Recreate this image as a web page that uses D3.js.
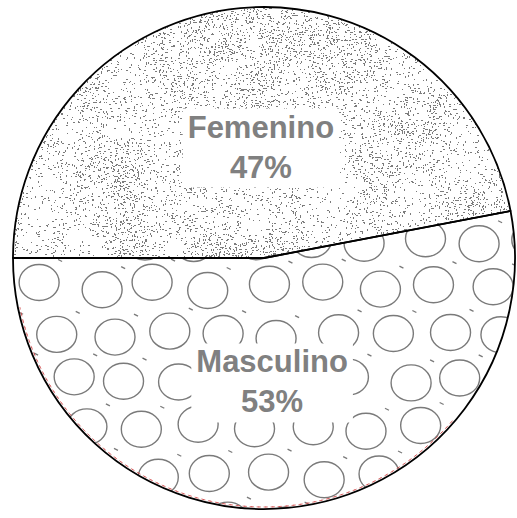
<!DOCTYPE html>
<html>
<head>
<meta charset="utf-8">
<script src="https://cdn.jsdelivr.net/npm/d3@7"></script>
<style>
  html, body { margin: 0; padding: 0; background: #ffffff; }
  svg { display: block; }
</style>
</head>
<body>
<svg id="chart" width="517" height="518"></svg>
<script>
// ---- data ----
const categories = ["Femenino", "Masculino"];
const values = [47, 53];
const percentLabels = ["47%", "53%"];

// ---- layout ----
const W = 517, H = 518;
const cx = 264, cy = 258, R = 251;
const textColor = "#808080";

const svg = d3.select("#chart");
const defs = svg.append("defs");
const g = svg.append("g").attr("transform", `translate(${cx},${cy})`);

const pie = d3.pie().sort(null).startAngle(-Math.PI / 2).endAngle(1.5 * Math.PI);
const arcs = pie(values);
const arc = d3.arc().innerRadius(0).outerRadius(R);

arcs.forEach((a, i) => {
  defs.append("clipPath").attr("id", "clip" + i)
    .append("path").attr("d", arc(a));
});

g.selectAll("path.bg").data(arcs).join("path")
  .attr("class", "bg").attr("d", arc).attr("fill", "#fff");

// ---- texture helpers (deterministic integer hash, texture only) ----
function ihash(x, y, s) {
  let h = (Math.imul(x, 374761393) + Math.imul(y, 668265263) + Math.imul(s, 1442695041)) | 0;
  h = Math.imul(h ^ (h >>> 13), 1274126177);
  h ^= h >>> 16;
  h = Math.imul(h, 2246822519);
  h ^= h >>> 13;
  return (h >>> 0) / 4294967296;
}
function vnoise(x, y, s) {
  const xi = Math.floor(x), yi = Math.floor(y);
  const xf = x - xi, yf = y - yi;
  const sm = t => t * t * (3 - 2 * t);
  const a = ihash(xi, yi, s), b = ihash(xi + 1, yi, s), c = ihash(xi, yi + 1, s), d = ihash(xi + 1, yi + 1, s);
  const u = sm(xf), v = sm(yf);
  return a + (b - a) * u + (c - a) * v + (a - b - c + d) * u * v;
}

// ---- stipple texture for slice 0 (Femenino) ----
(function () {
  let d = "";
  for (let y = 0; y < cy + 2; y += 2) {
    for (let x = 0; x < W; x += 2) {
      const n = 0.6 * vnoise(x / 42, y / 42, 1) + 0.4 * vnoise(x / 16, y / 16, 2);
      const dens = 0.10 + 0.55 * Math.pow(Math.max(0, n - 0.15) / 0.85, 1.4);
      if (ihash(x, y, 3) < dens) {
        const k = ihash(x, y, 4);
        const ox = ihash(x, y, 5) < 0.5 ? 0 : 1;
        const oy = ihash(x, y, 6) < 0.5 ? 0 : 1;
        const px = x + ox - cx, py = y + oy - cy;
        if (k < 0.4) d += `M${px},${py}h1v1h-1z`;
        else if (k < 0.75) d += `M${px},${py}h2v1h-2z`;
        else d += `M${px},${py}h1v2h-1z`;
      }
    }
  }
  g.append("g").attr("clip-path", "url(#clip0)")
    .append("path").attr("d", d).attr("fill", "#7c7c7c")
    .attr("shape-rendering", "crispEdges");
})();

// ---- circle texture for slice 1 (Masculino) ----
(function () {
  const cg = g.append("g").attr("clip-path", "url(#clip1)");
  const rows = [];
  for (let r = -2; r < 7; r++) {
    for (let c = -2; c < 11; c++) {
      const bx = 43 + 14 * r + 56 * c - 56 * Math.floor((14 * r + 43) / 56);
      const by = 287 + 47 * r;
      const jx = (ihash(r + 10, c + 10, 7) - 0.5) * 10;
      const jy = (ihash(r + 10, c + 10, 8) - 0.5) * 10;
      rows.push({ x: bx + jx - cx, y: by + jy - cy });
    }
  }
  cg.selectAll("ellipse").data(rows).join("ellipse")
    .attr("cx", d => d.x).attr("cy", d => d.y)
    .attr("rx", 20).attr("ry", 18)
    .attr("fill", "none").attr("stroke", "#7a7a7a").attr("stroke-width", 1.4);
  cg.selectAll("line.tick").data(rows).join("line")
    .attr("class", "tick")
    .attr("x1", d => d.x + 19).attr("y1", d => d.y - 23)
    .attr("x2", d => d.x + 23).attr("y2", d => d.y - 21)
    .attr("stroke", "#7a7a7a").attr("stroke-width", 1.3);
})();

// ---- outlines ----
g.selectAll("path.edge").data(arcs).join("path")
  .attr("class", "edge").attr("d", arc)
  .attr("fill", "none").attr("stroke", "#000").attr("stroke-width", 1.8)
  .attr("stroke-linejoin", "round");

const innerArc = d3.arc().innerRadius(R - 2).outerRadius(R - 2);
g.append("path")
  .attr("d", innerArc({ startAngle: arcs[1].startAngle + 0.9, endAngle: arcs[1].endAngle - 0.2 }))
  .attr("fill", "none").attr("stroke", "#d04848").attr("stroke-width", 1)
  .attr("stroke-dasharray", "3,4").attr("opacity", 0.7);

// ---- labels ----
const labelArc = d3.arc().innerRadius(118).outerRadius(118);
const lineGap = 40;
const labels = g.selectAll("g.label").data(arcs).join("g")
  .attr("class", "label")
  .attr("transform", d => {
    const [x, y] = labelArc.centroid(d);
    return `translate(${x + (d.index === 0 ? 8 : -3)},${y + 14})`;
  });

labels.each(function (d, i) {
  const sel = d3.select(this);
  const bg = sel.append("rect").attr("fill", "#fff");
  const t = sel.append("text")
    .attr("text-anchor", "middle")
    .attr("font-family", "'Liberation Sans', Arial, sans-serif")
    .attr("font-weight", "bold")
    .attr("font-size", 31)
    .attr("fill", textColor);
  t.append("tspan").attr("x", 0).attr("y", -lineGap / 2 + 3).text(categories[i]);
  t.append("tspan").attr("x", 0).attr("y", lineGap / 2 + 3).text(percentLabels[i]);
  const bb = t.node().getBBox();
  bg.attr("x", bb.x - 5).attr("y", bb.y - 1).attr("width", bb.width + 10).attr("height", bb.height + 4);
});
</script>
</body>
</html>
